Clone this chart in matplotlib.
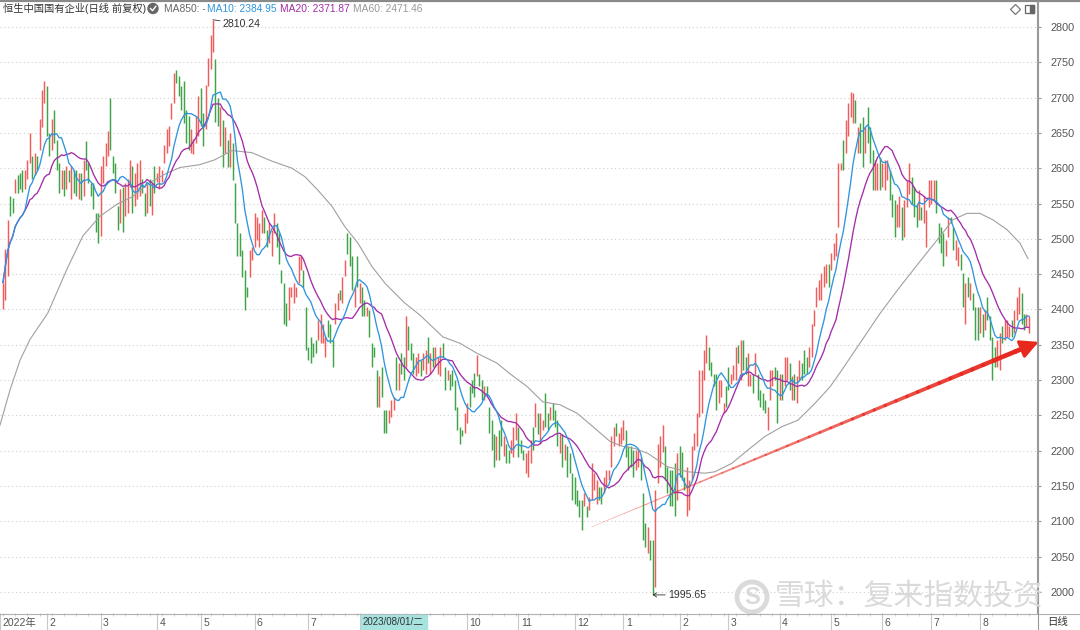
import numpy as np
import pandas as pd
import matplotlib
matplotlib.use("Agg")
import matplotlib.pyplot as plt
from matplotlib.collections import LineCollection
from matplotlib.patches import Rectangle, Circle

plt.rcParams['font.family'] = ['Liberation Sans', 'Noto Sans CJK SC']

# daily bars (open / close)
opens = [2400,2414,2447,2560,2558,2565,2590,2593,2598,2570,2584,2607,2617,2590,2617,2626,2659,2692,2716,2650,
         2626,2683,2640,2607,2570,2598,2570,2598,2556,2598,2598,2557,2593,2560,2638,2607,2579,2579,2537,2537,
         2504,2579,2603,2617,2699,2617,2607,2546,2523,2574,2532,2537,2574,2603,2546,2556,2560,2584,2565,2537,
         2584,2534,2603,2580,2570,2580,2607,2622,2631,2669,2692,2739,2730,2716,2723,2683,2674,2622,2620,2636,
         2645,2713,2678,2655,2716,2740,2765,2755,2700,2631,2668,2621,2640,2602,2635,2579,2522,2508,2484,2456,
         2432,2446,2470,2489,2498,2489,2508,2531,2512,2494,2475,2508,2522,2508,2456,2437,2409,2385,2418,2409,
         2418,2437,2456,2456,2404,2347,2361,2352,2357,2357,2352,2352,2333,2385,2380,2357,2380,2399,2428,2409,
         2447,2508,2503,2475,2404,2475,2409,2432,2413,2390,2399,2352,2347,2314,2262,2319,2258,2258,2239,2248,
         2258,2333,2286,2338,2333,2319,2376,2352,2338,2305,2310,2328,2314,2309,2361,2309,2347,2319,2309,2305,
         2352,2319,2300,2309,2314,2300,2262,2234,2229,2225,2239,2291,2300,2310,2305,2309,2300,2272,2291,2262,
         2243,2224,2187,2229,2243,2192,2210,2201,2196,2191,2215,2234,2215,2201,2168,2163,2182,2234,2234,2253,
         2210,2229,2281,2253,2243,2267,2258,2243,2196,2224,2187,2206,2196,2168,2163,2144,2130,2130,2121,2121,
         2116,2130,2144,2125,2149,2149,2140,2149,2158,2177,2206,2239,2206,2210,2215,2229,2206,2206,2201,2173,
         2177,2191,2140,2097,2055,2073,2073,2007,2154,2177,2198,2206,2177,2173,2173,2182,2130,2206,2198,2163,
         2107,2116,2158,2201,2206,2248,2253,2300,2324,2347,2326,2309,2309,2267,2276,2253,2291,2319,2295,2300,
         2300,2350,2300,2357,2333,2291,2291,2309,2309,2309,2286,2281,2272,2229,2272,2291,2319,2314,2272,2309,
         2291,2300,2324,2272,2309,2267,2300,2324,2342,2333,2319,2333,2376,2404,2413,2413,2432,2437,2465,2456,
         2470,2475,2517,2597,2640,2621,2645,2673,2664,2697,2621,2664,2673,2621,2687,2659,2626,2569,2569,2616,
         2574,2569,2583,2597,2564,2555,2517,2517,2545,2503,2545,2564,2588,2574,2550,2527,2545,2522,2489,2545,
         2550,2555,2583,2522,2517,2508,2475,2503,2531,2517,2470,2461,2479,2451,2380,2446,2413,2423,2404,2404,
         2366,2394,2371,2418,2390,2361,2347,2319,2314,2376,2357,2361,2361,2385,2366,2385,2394,2423,2394,2376,
         2366]
closes = [2438,2485,2527,2532,2536,2584,2565,2570,2566,2598,2612,2650,2584,2622,2598,2669,2711,2723,2645,2617,
          2669,2636,2598,2565,2598,2560,2603,2580,2603,2565,2560,2593,2555,2612,2598,2579,2560,2542,2509,2494,
          2603,2617,2636,2652,2626,2593,2565,2513,2570,2509,2579,2584,2612,2537,2593,2607,2612,2565,2532,2579,
          2546,2579,2565,2593,2603,2598,2633,2655,2660,2692,2735,2720,2702,2683,2664,2636,2626,2655,2641,2674,
          2702,2660,2632,2718,2756,2789,2810.24,2665,2660,2687,2602,2659,2602,2650,2583,2522,2475,2475,2446,2399,
          2418,2484,2489,2536,2531,2522,2541,2508,2489,2522,2512,2536,2489,2465,2437,2380,2376,2432,2432,2437,
          2432,2475,2475,2432,2343,2328,2324,2333,2338,2385,2394,2380,2361,2361,2352,2319,2409,2423,2413,2446,
          2470,2479,2461,2428,2432,2432,2437,2390,2390,2404,2361,2319,2333,2262,2305,2276,2225,2225,2258,2272,
          2276,2286,2324,2309,2300,2390,2343,2328,2309,2333,2338,2305,2338,2342,2324,2338,2319,2347,2333,2347,
          2333,2286,2314,2286,2291,2258,2229,2210,2220,2253,2267,2262,2281,2276,2335,2291,2272,2291,2276,2225,
          2201,2177,2220,2187,2206,2220,2182,2182,2215,2234,2253,2191,2196,2187,2196,2201,2215,2201,2267,2224,
          2253,2243,2234,2229,2262,2243,2234,2206,2224,2177,2210,2163,2168,2130,2125,2121,2106,2088,2140,2106,
          2135,2182,2168,2158,2130,2125,2163,2173,2173,2220,2234,2220,2225,2234,2243,2191,2173,2177,2163,2201,
          2201,2158,2073,2064,2092,2045,1995.65,2144,2210,2220,2236,2158,2140,2121,2121,2107,2196,2163,2158,2144,
          2177,2158,2206,2225,2253,2314,2314,2342,2364,2314,2305,2291,2258,2300,2300,2267,2262,2286,2309,2321,
          2347,2324,2357,2314,2309,2338,2309,2281,2338,2272,2262,2258,2253,2262,2314,2314,2300,2239,2309,2272,
          2333,2333,2286,2305,2272,2305,2328,2300,2309,2309,2347,2380,2399,2432,2442,2451,2461,2465,2432,2480,
          2494,2508,2607,2607,2597,2668,2692,2708,2706,2664,2659,2621,2602,2659,2635,2607,2569,2612,2607,2569,
          2607,2612,2612,2555,2531,2503,2550,2560,2498,2555,2583,2607,2550,2531,2517,2569,2527,2560,2541,2583,
          2583,2583,2536,2494,2480,2461,2498,2531,2522,2484,2498,2489,2456,2404,2437,2418,2437,2399,2357,2357,
          2404,2361,2399,2385,2357,2300,2319,2357,2366,2352,2385,2385,2376,2361,2399,2418,2432,2380,2371,2394,
          2390]

# MA60 as drawn (index of bar, value)
ma60_idx = [-1.2, 2.9, 7, 11, 18.4, 26.2, 32.7, 39.7, 46.7, 53.2, 60.2, 67.1, 72.5, 80.6, 86.8, 93.7, 101.9,
            110.1, 118.3, 123.6, 128.9, 134.7, 140, 145.3, 151, 156.4, 164.5, 170.7, 180.1, 187.1, 194, 202.2,
            207.5, 214.5, 221, 228, 235, 241.5, 248.5, 253.8, 258.7, 264, 272.2, 280.4, 287.3, 291.4, 298.4,
            305, 311.9, 318.9, 325.4, 332.4, 338.5, 342.6, 350.8, 359, 367.2, 375.4, 383.5, 388.9, 394.6,
            399.9, 405.2, 411, 416.3, 419.6]
ma60_val = [2236, 2286, 2328, 2357, 2395, 2457, 2504, 2532, 2549, 2560, 2580, 2593, 2601, 2605, 2612, 2625, 2622,
            2610, 2600, 2588, 2569, 2546, 2517, 2494, 2461, 2437, 2409, 2392, 2361, 2352, 2338, 2324,
            2309, 2291, 2269, 2265, 2253, 2234, 2213, 2206, 2203, 2196, 2177, 2170, 2168, 2170, 2182,
            2201, 2220, 2234, 2243, 2267, 2290, 2310, 2352, 2394, 2432, 2468, 2503, 2527, 2536,
            2536, 2527, 2513, 2494, 2472]

# month starts; 8 and 9 of the first year sit under the cursor date box
month_idx = [-1, 18, 40, 63, 81, 103, 125, 190, 211, 234, 254, 277, 297, 318, 339, 360, 380, 400]
month_lbl = ['2022年', '2', '3', '4', '5', '6', '7', '10', '11', '12',
             '1', '2', '3', '4', '5', '6', '7', '8']
hidden_months = [146, 169]

trend_x = [241, 424]
trend_y = [2092, 2354]

RED = '#f25c5c'
GREEN = '#3fa449'

fig = plt.figure(figsize=(10.8, 6.3), dpi=100)
fig.patch.set_facecolor('white')
W, H = 1080.0, 630.0
ax = fig.add_axes([0, 17 / H, 1037 / W, (H - 19) / H])

x = np.arange(len(closes))
o = np.array(opens, dtype=float)
c = np.array(closes, dtype=float)
up = c >= o
ax.vlines(x[up], o[up], c[up], color=RED, lw=1.05, zorder=3)
ax.vlines(x[~up], c[~up], o[~up], color=GREEN, lw=1.05, zorder=3)

s = pd.Series(c)
ma10 = s.rolling(10, min_periods=1).mean()
ma20 = s.rolling(20, min_periods=1).mean()
ax.plot(ma60_idx, ma60_val, color='#a0a0a0', lw=0.8, zorder=4)
ax.plot(x, ma20, color='#a32ca8', lw=0.95, zorder=5)
ax.plot(x, ma10, color='#2f95dc', lw=0.95, zorder=6)

ax.set_xlim(-1.2, 423.3)
ax.set_ylim(1970, 2835.4)
ax.set_yticks(np.arange(2000, 2801, 50))
ax.yaxis.tick_right()
ax.tick_params(axis='y', direction='out', length=3, color='#999999', labelsize=7.8,
               labelcolor='#555555', pad=7)
ax.set_xticks([])
for sp in ['left', 'top', 'bottom']:
    ax.spines[sp].set_visible(False)
ax.spines['right'].set_color('#999999')
ax.grid(axis='y', color='#cfcfcf', lw=0.8, linestyle=(0, (1, 2.5)))
ax.set_axisbelow(True)

# high / low marks
pk = int(np.argmax(c))
lo = int(np.argmin(c))
ax.annotate('2810.24', xy=(pk, c[pk]), xytext=(7, -3), textcoords='offset points',
            va='center', ha='left', fontsize=7.6, color='#333333',
            arrowprops=dict(arrowstyle='-', color='#333333', lw=0.6, shrinkA=0, shrinkB=0))
ax.annotate('1995.65', xy=(lo, c[lo]), xytext=(11, 0), textcoords='offset points',
            va='center', ha='left', fontsize=7.6, color='#333333',
            arrowprops=dict(arrowstyle='->,head_length=0.3,head_width=0.2', color='#333333',
                            lw=0.6, shrinkA=0, shrinkB=0))

# hand drawn red trend arrow, getting thicker to the right
n = 40
tx = np.linspace(trend_x[0], trend_x[1] - 5, n + 1)
ty = np.interp(tx, trend_x, trend_y)
segs = [[(tx[k], ty[k]), (tx[k + 1], ty[k + 1])] for k in range(n)]
cols = [(0.91, 0.16, 0.12, a) for a in np.linspace(0.35, 1.0, n)]
lc = LineCollection(segs, colors=cols, linewidths=np.linspace(0.4, 3.4, n), capstyle='round',
                    zorder=8, clip_on=False)
ax.add_collection(lc)
ax.annotate('', xy=(trend_x[1], trend_y[1]), xytext=(tx[-4], ty[-4]), annotation_clip=False,
            arrowprops=dict(arrowstyle='-|>,head_length=0.55,head_width=0.28', mutation_scale=20,
                            color='#e8291e', lw=2.2, shrinkA=0, shrinkB=0), zorder=9)

# date strip
axd = fig.add_axes([0, 0, 1037 / W, 17 / H], sharex=ax)
axd.set_ylim(0, 1)
axd.set_yticks([])
axd.tick_params(axis='x', length=0, labelbottom=False)
for sp in ['left', 'bottom', 'right', 'top']:
    axd.spines[sp].set_visible(False)
axd.vlines(month_idx + hidden_months, 0, 1, color='#c8c8c8', lw=0.8)
axd.vlines(np.arange(0, len(closes), 5), 0.8, 1, color='#c4c4c4', lw=0.6)
for xi, lb in zip(month_idx, month_lbl):
    axd.text(xi + 1.0, 0.42, lb, ha='left', va='center', fontsize=7.5, color='#555555')

# overlay in pixel coordinates for header, borders and watermark
ov = fig.add_axes([0, 0, 1, 1], zorder=10)
ov.set_xlim(0, W)
ov.set_ylim(H, 0)
ov.axis('off')
ov.patch.set_alpha(0)

ov.plot([0, W], [0.8, 0.8], color='#8a8a8a', lw=1.6)
ov.plot([0, W], [613.5, 613.5], color='#b0b0b0', lw=0.8)
ov.plot([1037.5, 1037.5], [0, H], color='#999999', lw=0.8)

ov.add_patch(Rectangle((361, 614.5), 66, 15.5, color='#a6e2de', zorder=2))
ov.text(362.5, 622, '2023/08/01/二', fontsize=7.0, color='#333333', va='center', ha='left', zorder=3)
ov.text(1047, 622, '日线', fontsize=7.5, color='#333333', va='center', ha='left')

hy = 8.5
ov.text(3, hy, '恒生中国国有企业(日线 前复权)', fontsize=7.4, color='#333333', va='center', ha='left')
ov.add_patch(Circle((153, hy), 5, color='#666666'))
ov.plot([150.5, 152.5, 155.8], [hy, hy + 2.2, hy - 2.2], color='white', lw=1.0)
ov.text(164, hy, 'MA850: -', fontsize=7.4, color='#666666', va='center', ha='left')
ov.text(207, hy, 'MA10: 2384.95', fontsize=7.4, color='#2f95dc', va='center', ha='left')
ov.text(280, hy, 'MA20: 2371.87', fontsize=7.4, color='#a32ca8', va='center', ha='left')
ov.text(353, hy, 'MA60: 2471.46', fontsize=7.4, color='#9a9a9a', va='center', ha='left')

ov.plot([1015], [9], marker='D', ms=5, mfc='white', mec='#777777', mew=0.9)
ov.add_patch(Rectangle((1025, 4.5), 9, 8, fill=False, ec='#666666', lw=0.9))
ov.add_patch(Rectangle((1030, 4.5), 4, 8, color='#666666'))

# watermark
ov.add_patch(Circle((752, 597), 15, fill=False, ec='#dadada', lw=3.5))
ov.text(752, 597, 'S', fontsize=17, color='#dadada', ha='center', va='center', fontweight='bold')
ov.text(775, 597, '雪球：复来指数投资', fontsize=21.5, color='#dadada', ha='left', va='center')

fig.savefig('out.png', dpi=100)
